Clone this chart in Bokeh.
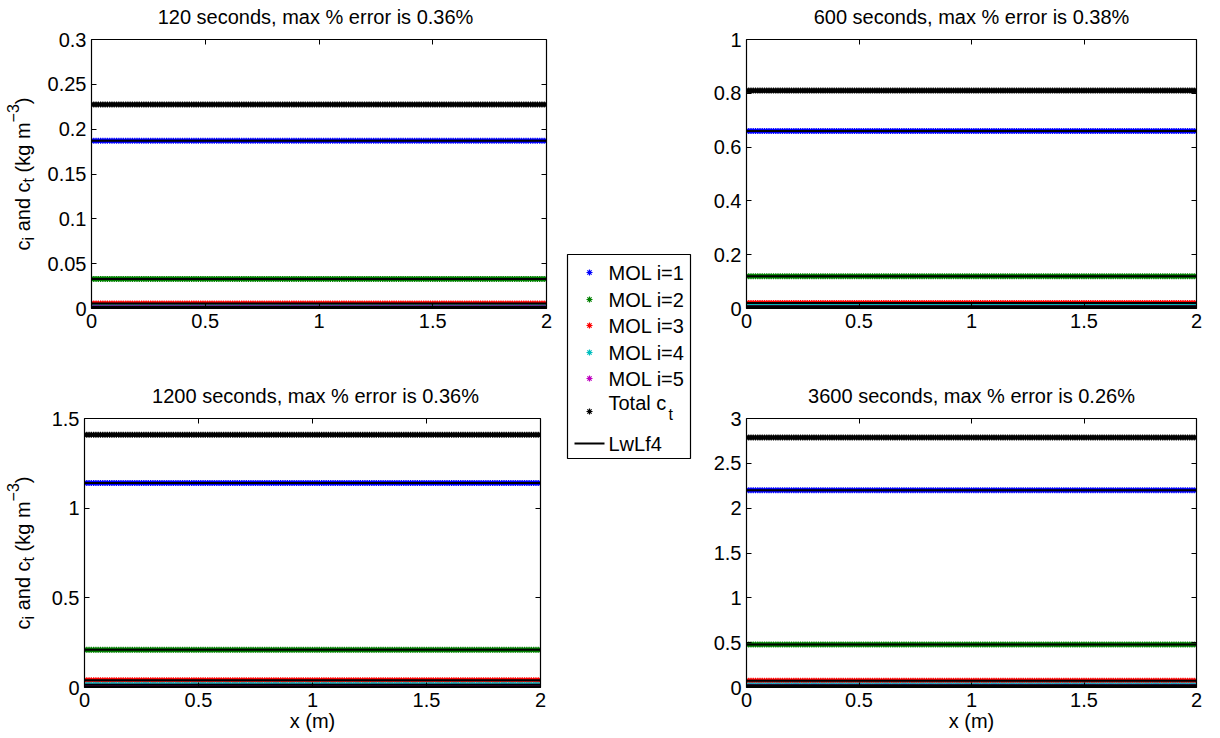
import math
import numpy as np
from bokeh.plotting import figure
from bokeh.models import Range1d, LinearAxis, FixedTicker
from bokeh.layouts import row, column
from bokeh.core.properties import value
from bokeh.embed import file_html
from bokeh.resources import INLINE

FONT = "Liberation Sans"

# spatial grid along the column (m)
x_grid = np.linspace(0.0, 2.0, 201)

times_s = [120, 600, 1200, 3600]
max_pct_error = ["0.36", "0.38", "0.36", "0.26"]

# MOL concentrations (kg m^-3) of each size class at the four output times
mol_i1 = [0.187, 0.660, 1.140, 2.200]
mol_i2 = [0.033, 0.120, 0.210, 0.480]
mol_i3 = [0.0055, 0.020, 0.040, 0.075]
mol_i4 = [0.0020, 0.008, 0.015, 0.025]
mol_i5 = [0.0005, 0.002, 0.004, 0.008]
mol_total = [0.2275, 0.810, 1.409, 2.788]

# LwLf4 reference solution at the same times
lwlf4_i1 = [0.187, 0.660, 1.140, 2.200]
lwlf4_i2 = [0.033, 0.120, 0.210, 0.480]
lwlf4_i3 = [0.0055, 0.020, 0.040, 0.075]
lwlf4_i4 = [0.0020, 0.008, 0.015, 0.025]
lwlf4_i5 = [0.0005, 0.002, 0.004, 0.008]
lwlf4_total = [0.2275, 0.810, 1.409, 2.788]

mol_series = [mol_i1, mol_i2, mol_i3, mol_i4, mol_i5, mol_total]
ref_series = [lwlf4_i1, lwlf4_i2, lwlf4_i3, lwlf4_i4, lwlf4_i5, lwlf4_total]
series_colors = ["#0000ff", "#008000", "#ff0000", "#00bfbf", "#bf00bf", "#000000"]
legend_labels = ["MOL i=1", "MOL i=2", "MOL i=3", "MOL i=4", "MOL i=5"]

x_ticks = [0, 0.5, 1, 1.5, 2]
x_tick_labels = ["0", "0.5", "1", "1.5", "2"]
y_max = [0.3, 1.0, 1.5, 3.0]
y_ticks = [
    [0, 0.05, 0.1, 0.15, 0.2, 0.25, 0.3],
    [0, 0.2, 0.4, 0.6, 0.8, 1],
    [0, 0.5, 1, 1.5],
    [0, 0.5, 1, 1.5, 2, 2.5, 3],
]
y_tick_labels = [
    ["0", "0.05", "0.1", "0.15", "0.2", "0.25", "0.3"],
    ["0", "0.2", "0.4", "0.6", "0.8", "1"],
    ["0", "0.5", "1", "1.5"],
    ["0", "0.5", "1", "1.5", "2", "2.5", "3"],
]

FRAME_W, FRAME_H = 456, 269

# Arial/Helvetica advance widths (em) for the hand-set axis label
ADV = {"c": 0.5, "i": 0.222, "t": 0.278, "a": 0.556, "n": 0.556, "d": 0.556,
       " ": 0.278, "(": 0.333, ")": 0.333, "k": 0.5, "g": 0.556, "m": 0.833,
       "\u2212": 0.584, "3": 0.556}


def text_width(s, size):
    return sum(ADV.get(ch, 0.556) for ch in s) * size


def blank_fig(w, h, x_range, y_range, bl=0, br=0, bt=0, bb=0):
    f = figure(width=w, height=h, output_backend="svg", toolbar_location=None,
               title=None, x_range=x_range, y_range=y_range,
               x_axis_type=None, y_axis_type=None,
               min_border_left=bl, min_border_right=br,
               min_border_top=bt, min_border_bottom=bb,
               background_fill_color="white", border_fill_color="white")
    f.grid.visible = False
    f.outline_line_color = None
    return f


def title_strip(k, w, h, bl, br, mid):
    # same side borders as the panel below, so x=1 sits over the frame centre
    f = blank_fig(w, h, Range1d(0, 2), Range1d(h, 0), bl=bl, br=br)
    f.text([1.0], [mid], text=[f"{times_s[k]} seconds, max % error is {max_pct_error[k]}%"],
           text_font=value(FONT), text_font_size="20px", text_align="center",
           text_baseline="middle", text_color="black")
    return f


def ylabel_strip(w, h, bt, bb, x_mid=22):
    # rotated label built piece by piece so the subscripts and exponent sit right;
    # y runs in pixels over the panel frame height
    f = blank_fig(w, h, Range1d(0, w), Range1d(0, FRAME_H), bt=bt, bb=bb)
    big, small = 20, 16
    pieces = [("c", big, 0), ("i", small, 6), (" ", big, 0), ("and c", big, 0),
              ("t", small, 6), (" ", big, 0), ("(kg m", big, 0),
              ("\u22123", small, -10), (")", big, 0)]
    total = sum(text_width(s, sz) for s, sz, _ in pieces)
    pos = FRAME_H / 2 - total / 2
    for s, sz, dx in pieces:
        if s.strip():
            f.text([x_mid + dx], [pos], text=[s], angle=math.pi / 2,
                   text_font=value(FONT), text_font_size=f"{sz}px",
                   text_align="left", text_baseline="middle", text_color="black")
        pos += text_width(s, sz)
    return f


def style_axis(ax, ticks, labels, show):
    ax.ticker = FixedTicker(ticks=ticks)
    ax.major_tick_in = 5
    ax.major_tick_out = 0
    ax.minor_tick_line_color = None
    ax.axis_line_color = "black"
    ax.axis_line_width = 1.2
    ax.major_tick_line_color = "black"
    ax.major_tick_line_width = 1
    if show:
        ax.major_label_overrides = {t: lab for t, lab in zip(ticks, labels)}
        ax.major_label_text_font = FONT
        ax.major_label_text_font_size = "20px"
        ax.major_label_text_color = "black"
        ax.major_label_standoff = 5
    else:
        ax.major_label_overrides = {t: "" for t in ticks}
        ax.major_label_text_font_size = "0px"
        ax.major_label_standoff = 0


def make_panel(k, bl, br, bt, bb, xlabel):
    p = figure(width=bl + FRAME_W + br, height=bt + FRAME_H + bb,
               output_backend="svg", toolbar_location=None, title=None,
               x_range=Range1d(0, 2), y_range=Range1d(0, y_max[k]),
               min_border_left=bl, min_border_right=br,
               min_border_top=bt, min_border_bottom=bb,
               background_fill_color="white", border_fill_color="white")
    p.grid.visible = False
    p.outline_line_color = None

    bottom_ax = p.xaxis[0]
    left_ax = p.yaxis[0]
    style_axis(bottom_ax, x_ticks, x_tick_labels, True)
    style_axis(left_ax, y_ticks[k], y_tick_labels[k], True)
    top_ax = LinearAxis()
    style_axis(top_ax, x_ticks, x_tick_labels, False)
    p.add_layout(top_ax, "above")
    right_ax = LinearAxis()
    style_axis(right_ax, y_ticks[k], y_tick_labels[k], False)
    p.add_layout(right_ax, "right")

    if xlabel:
        bottom_ax.axis_label = "x (m)"
        bottom_ax.axis_label_text_font = FONT
        bottom_ax.axis_label_text_font_size = "20px"
        bottom_ax.axis_label_text_font_style = "normal"
        bottom_ax.axis_label_text_color = "black"
        bottom_ax.axis_label_standoff = 0

    # MOL points first, reference solution lines drawn over them
    for vals, col in zip(mol_series, series_colors):
        yv = np.full(x_grid.shape, vals[k])
        p.scatter(x_grid, yv, marker="asterisk", size=6, line_color=col, line_width=1.2)
    for vals in ref_series:
        yv = np.full(x_grid.shape, vals[k])
        p.line(x_grid, yv, line_color="black", line_width=2)
    return p


YSTRIP = 44
# top row: frames span y 39..308; bottom row: 418..687
p_tl = make_panel(0, 46, 14, 11, 62, False)
p_tr = make_panel(1, 46, 18, 11, 62, False)
p_bl = make_panel(2, 40, 20, 11, 51, True)
p_br = make_panel(3, 40, 24, 11, 51, True)

t_tl = title_strip(0, 560, 28, YSTRIP + 46, 14, 16)
t_tr = title_strip(1, 520, 28, 46, 18, 16)
t_bl = title_strip(2, 560, 37, YSTRIP + 40, 20, 25)
t_br = title_strip(3, 520, 37, 40, 24, 25)

y_tl = ylabel_strip(YSTRIP, 11 + FRAME_H + 62, 11, 62)
y_bl = ylabel_strip(YSTRIP, 11 + FRAME_H + 51, 11, 51)

left_col = column(t_tl, row(y_tl, p_tl), t_bl, row(y_bl, p_bl))
right_col = column(t_tr, p_tr, t_br, p_br)

# shared legend between the two columns
leg = blank_fig(140, 738, Range1d(0, 140), Range1d(738, 0))
leg.quad(left=[7], right=[130], top=[254], bottom=[458],
         fill_color="white", line_color="black", line_width=1.2)
row_y = [272, 299, 325, 352, 378]
leg.scatter([29] * 5, row_y, marker="asterisk", size=6,
            line_color=series_colors[:5], line_width=1.2)
leg.text([48] * 5, row_y, text=legend_labels, text_font=value(FONT),
         text_font_size="20px", text_baseline="middle", text_align="left",
         text_color="black")
leg.scatter([29], [411], marker="asterisk", size=6, line_color="black", line_width=1.2)
leg.text([48], [402], text=["Total c"], text_font=value(FONT), text_font_size="20px",
         text_baseline="middle", text_align="left", text_color="black")
leg.text([108], [414], text=["t"], text_font=value(FONT), text_font_size="16px",
         text_baseline="middle", text_align="left", text_color="black")
leg.line([14, 44], [443, 443], line_color="black", line_width=2)
leg.text([48], [443], text=["LwLf4"], text_font=value(FONT), text_font_size="20px",
         text_baseline="middle", text_align="left", text_color="black")

layout = row(left_col, leg, right_col)

open("out.html", "w").write(file_html(layout, INLINE))
